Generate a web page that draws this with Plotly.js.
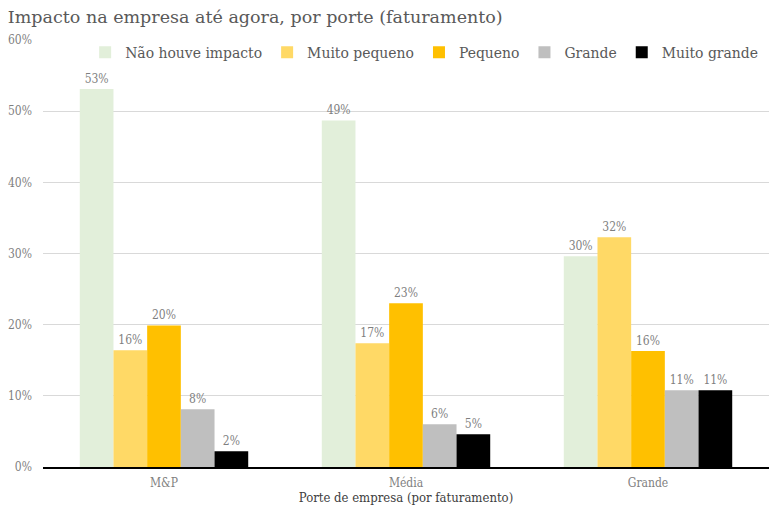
<!DOCTYPE html>
<html>
<head>
<meta charset="utf-8">
<script src="https://cdn.plot.ly/plotly-3.0.1.min.js"></script>
<style>
  html, body { margin: 0; padding: 0; background: #fff; }
  #chart { width: 782px; height: 513px; }
</style>
</head>
<body>
<div id="chart"></div>
<script>
// Categories and series (percent)
const categories = ['M&P', 'Média', 'Grande'];
const seriesNames = ['Não houve impacto', 'Muito pequeno', 'Pequeno', 'Grande', 'Muito grande'];
const naoHouve = [53.1, 48.7, 29.6];
const muitoPequeno = [16.4, 17.4, 32.3];
const pequeno = [19.9, 23.0, 16.3];
const grande = [8.1, 6.0, 10.8];
const muitoGrande = [2.2, 4.6, 10.8];
const colors = ['#e2efda', '#ffd966', '#ffc000', '#bfbfbf', '#000000'];

const FONT = '"DejaVu Serif", serif';
const FONT_C = '"DejaVu Serif Condensed", "DejaVu Serif", serif';
const values = [naoHouve, muitoPequeno, pequeno, grande, muitoGrande];

const traces = values.map((v, i) => ({
    type: 'bar', name: seriesNames[i], x: categories, y: v,
    marker: { color: colors[i] },
    texttemplate: '%{y:.0f}%', textposition: 'outside', cliponaxis: false,
    textfont: { family: FONT_C, size: 12, color: '#7f7f7f' },
    hoverinfo: 'skip'
}));

const layout = {
    width: 782, height: 513,
    margin: { l: 43, r: 13, t: 40, b: 46, autoexpand: false },
    paper_bgcolor: '#fff', plot_bgcolor: '#fff',
    font: { family: FONT, color: '#595959' },
    title: {
        text: 'Impacto na empresa até agora, por porte (faturamento)',
        x: 0.01, xanchor: 'left', y: 0.967, yanchor: 'middle',
        font: { family: FONT, size: 17.5, color: '#595959' }
    },
    barmode: 'group', bargap: 0.304, bargroupgap: 0,
    showlegend: true,
    legend: {
        orientation: 'h', x: 0.525, xanchor: 'center', y: 1.01, yanchor: 'top',
        font: { family: FONT_C, size: 15.5, color: '#595959' },
        bgcolor: 'rgba(0,0,0,0)', itemwidth: 30, traceorder: 'normal'
    },
    xaxis: {
        showgrid: false, showline: true, linecolor: '#000', linewidth: 1.5,
        ticks: '', automargin: false, ticklabelstandoff: 4,
        tickfont: { family: FONT_C, size: 12, color: '#7f7f7f' },
        title: { text: 'Porte de empresa (por faturamento)', standoff: 0,
                 font: { family: FONT_C, size: 13, color: '#404040' } }
    },
    yaxis: {
        range: [0, 60], dtick: 10, ticksuffix: '%',
        showgrid: true, gridcolor: '#d9d9d9', gridwidth: 1, automargin: false,
        zeroline: false, showline: false, ticks: '', ticklabelstandoff: 10,
        tickfont: { family: FONT_C, size: 12, color: '#7f7f7f' }
    }
};

Plotly.newPlot('chart', traces, layout, { displayModeBar: false, staticPlot: true });
</script>
</body>
</html>
